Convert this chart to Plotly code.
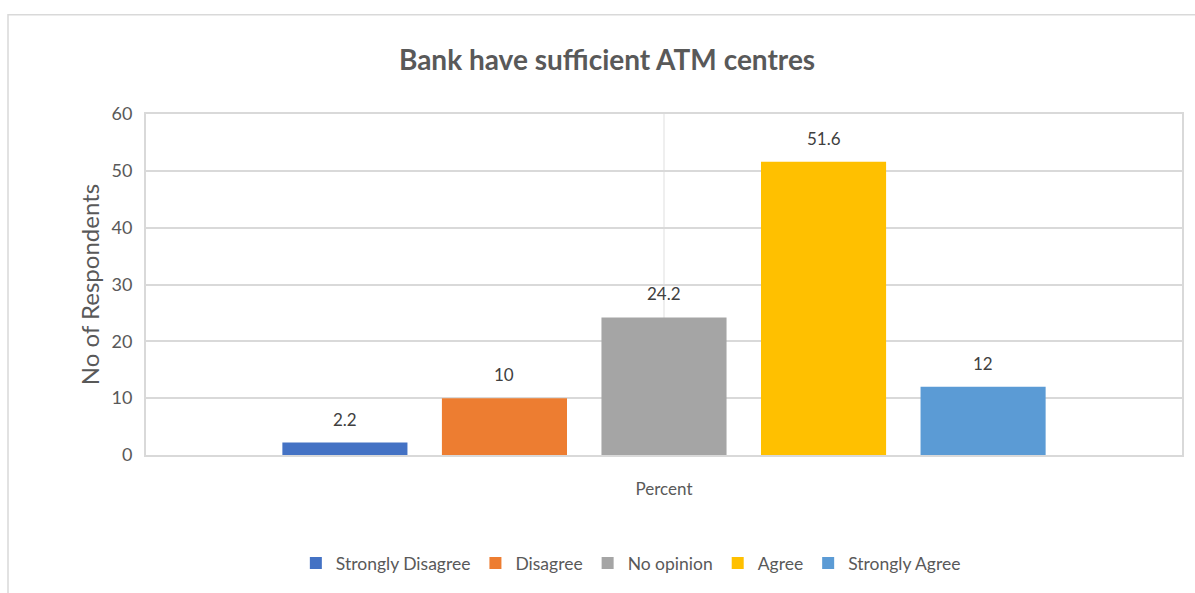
import plotly.graph_objects as go

# Survey responses for a single question, one series per answer
category = ["Percent"]
series_names = ["Strongly Disagree", "Disagree", "No opinion", "Agree", "Strongly Agree"]
series_values = [2.2, 10, 24.2, 51.6, 12]
series_colors = ["#4472C4", "#ED7D31", "#A5A5A5", "#FFC000", "#5B9BD5"]
y_ticks = [0, 10, 20, 30, 40, 50, 60]

FONT = "Lato"
TEXT = "#595959"
GRID = "#d9d9d9"
BARGAP = 0.23
BARGROUPGAP = 0.216

fig = go.Figure()
for name, val, col in zip(series_names, series_values, series_colors):
    fig.add_trace(go.Bar(
        x=category, y=[val], name=name,
        marker=dict(color=col, line=dict(width=0)),
    ))

# value labels above each bar of the group
n = len(series_names)
slot = (1 - BARGAP) / n
for i, val in enumerate(series_values):
    fig.add_annotation(
        x=(i - (n - 1) / 2) * slot, y=val, xref="x", yref="y",
        text=f"{val:g}", showarrow=False, yanchor="bottom", yshift=11,
        font=dict(family=FONT, size=17, color="#404040"),
    )

# outer chart frame
fig.add_shape(
    type="rect", xref="paper", yref="paper",
    x0=(8 - 146) / 1036, x1=(1210 - 146) / 1036,
    y0=(458 - 610) / 344, y1=(458 - 14) / 344,
    line=dict(color=GRID, width=1.5), fillcolor="rgba(0,0,0,0)", layer="below",
)

fig.update_layout(
    width=1195, height=593,
    margin=dict(l=146, r=13, t=114, b=135),
    paper_bgcolor="white", plot_bgcolor="white",
    barmode="group", bargap=BARGAP, bargroupgap=BARGROUPGAP,
    title=dict(text="<b>Bank have sufficient ATM centres</b>", x=0.508, xanchor="center",
               y=1 - 60 / 593, yanchor="middle",
               font=dict(family=FONT, size=28, color=TEXT)),
    font=dict(family=FONT, color=TEXT),
    showlegend=True,
    legend=dict(orientation="h", x=0.468, xanchor="center", y=(458 - 567) / 344, yanchor="middle",
                font=dict(family=FONT, size=17.5, color=TEXT), itemwidth=30,
                traceorder="normal"),
    xaxis=dict(
        type="category", range=[-0.5, 0.5],
        showline=True, linecolor=GRID, linewidth=2, mirror=True,
        showgrid=True, gridcolor="#efefef", gridwidth=2,
        ticks="outside", ticklen=18, tickcolor="rgba(0,0,0,0)",
        tickfont=dict(family=FONT, size=17, color=TEXT),
    ),
    yaxis=dict(
        range=[0, 60], tickvals=y_ticks,
        showline=True, linecolor=GRID, linewidth=2, mirror=True,
        showgrid=True, gridcolor=GRID, gridwidth=2, zeroline=False,
        ticks="outside", ticklen=8, tickcolor="rgba(0,0,0,0)",
        tickfont=dict(family=FONT, size=18, color=TEXT),
        title=dict(text="No of Respondents", standoff=5,
                   font=dict(family=FONT, size=24, color=TEXT)),
    ),
)

fig.write_html("out.html")
